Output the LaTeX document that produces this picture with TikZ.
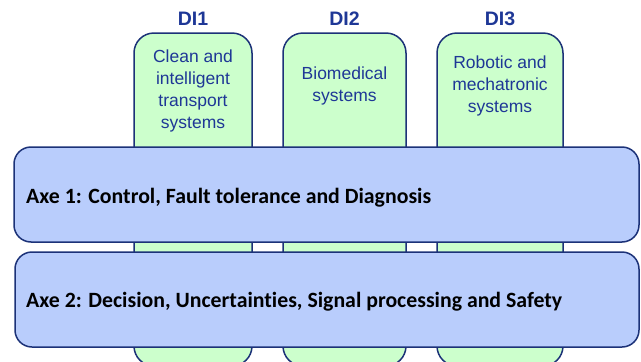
\documentclass[tikz,border=0pt]{standalone}
\usepackage{fontspec}
\setmainfont{Liberation Sans}
\newfontfamily\axefont[Ligatures=NoCommon]{Carlito}
\definecolor{colgreen}{RGB}{204,255,204}
\definecolor{axeblue}{RGB}{185,205,252}
\definecolor{edgeblue}{RGB}{28,50,120}
\definecolor{textblue}{RGB}{30,55,150}
\tikzset{
	column/.style={line width=1.5pt, draw=edgeblue, fill=colgreen, rounded corners=20pt},
	axebox/.style={line width=1.5pt, draw=edgeblue, fill=axeblue, rounded corners=17pt},
	dilabel/.style={font=\fontsize{19.5}{22}\selectfont\bfseries, text=textblue},
	coltext/.style={font=\fontsize{17.5}{22}\selectfont, text=textblue, align=center, anchor=north, inner sep=0pt},
	axetext/.style={font=\axefont\fontsize{21.8}{24}\selectfont\bfseries, anchor=west, inner sep=0pt}
}
\begin{document}
\begin{tikzpicture}[x=1pt, y=1pt]
		%%%%% START %%%%%
		\clip (0, 0) rectangle (641, -362);
		
		% domains
		\draw[column] (134, -33) rectangle (252, -366);
		\draw[column] (283, -33) rectangle (406, -366);
		\draw[column] (437, -33) rectangle (563, -366);
		
		\node[dilabel] (di1) at (193, -19) {DI1};
		\node[dilabel] (di2) at (344.5, -19) {DI2};
		\node[dilabel] (di3) at (500, -19) {DI3};
		
		\node[coltext] (di1txt) at (193, -50) {Clean and\\intelligent\\transport\\systems};
		\node[coltext] (di2txt) at (344.5, -67) {Biomedical\\systems};
		\node[coltext] (di3txt) at (500, -56) {Robotic and\\mechatronic\\systems};
		
		% axes
		\draw[axebox] (14, -147) rectangle (639, -242);
		\node[axetext] (axe1) at (26, -197.5) {Axe 1: Control, Fault tolerance and Diagnosis};
		
		\draw[axebox] (15, -252) rectangle (639, -347);
		\node[axetext] (axe2) at (26, -301.5) {Axe 2: Decision, Uncertainties, Signal processing and Safety};
		
		%%%%% END %%%%%
	\end{tikzpicture}
\end{document}
